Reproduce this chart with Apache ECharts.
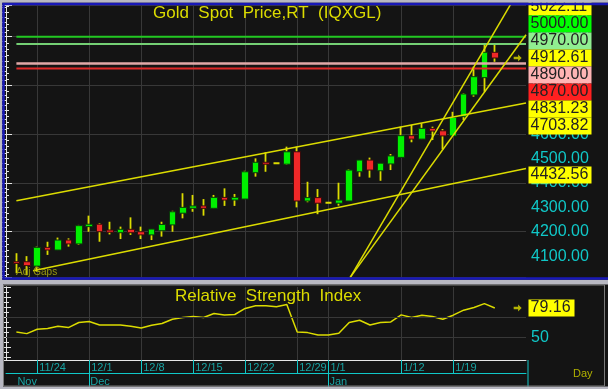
<!DOCTYPE html>
<html>
<head>
<meta charset="utf-8">
<script src="https://cdn.jsdelivr.net/npm/echarts@6.0.0/dist/echarts.min.js"></script>
<style>
html,body{margin:0;padding:0;background:#141414;}
#chart{width:608px;height:389px;}
</style>
</head>
<body>
<div id="chart"></div>
<script>
// ---------------- data ----------------
const dates = ['11/20','11/21','11/24','11/25','11/26','11/27','11/28','12/1','12/2','12/3','12/4','12/5','12/8','12/9','12/10','12/11','12/12','12/15','12/16','12/17','12/18','12/19','12/22','12/23','12/24','12/25','12/26','12/29','12/30','12/31','1/1','1/2','1/5','1/6','1/7','1/8','1/9','1/12','1/13','1/14','1/15','1/16','1/19','1/20','1/21','1/22','1/23'];
const opens  = [4077,4077,4059,4136,4125,4166,4150,4221,4231,4207,4196,4210,4200,4187,4204,4228,4276,4296,4306,4296,4341,4330,4334,4442,4485,4481,4477,4528,4326,4340,4319,4317,4326,4446,4494,4450,4478,4505,4594,4580,4624,4614,4593,4672,4761,4832,4936];
const closes = [4070,4061,4136,4125,4166,4150,4225,4231,4200,4198,4210,4196,4187,4211,4230,4282,4300,4306,4296,4341,4330,4341,4446,4485,4477,4481,4528,4326,4340,4317,4319,4330,4453,4494,4453,4481,4511,4594,4580,4624,4613,4593,4669,4765,4836,4936,4912.61];
const lows   = [4030,4022,4036,4105,4125,4139,4146,4200,4159,4189,4170,4187,4170,4166,4180,4200,4255,4282,4266,4296,4306,4306,4334,4426,4446,4481,4474,4300,4321,4272,4319,4307,4326,4426,4422,4409,4453,4505,4567,4580,4576,4538,4593,4658,4754,4774,4897];
const highs  = [4112,4100,4139,4159,4176,4173,4228,4266,4235,4241,4221,4259,4221,4211,4241,4286,4358,4351,4334,4351,4378,4355,4450,4501,4526,4481,4549,4549,4405,4375,4319,4401,4456,4494,4504,4481,4519,4631,4638,4645,4631,4621,4692,4768,4877,4966,4966];
const rsi    = [55.3,53.7,58,58.7,61,59.7,64.7,65.7,62.3,62.3,62.3,61,59.3,62,63.7,68,69.7,70.7,69.7,73.7,72.3,72.7,78.7,81.3,81.3,80.3,82.7,55.3,54.7,52.3,52.3,54,64.7,67,62.3,64.7,65.3,72.3,69.7,72,70.7,68,72,77,79.7,83.5,79.16];

// horizontal price levels
const levels = [5000, 4970, 4890, 4870];
// trend lines: [bar slot, price] end points (slot 1 = first date)
const trendUpper  = [[1, 4327], [50, 4728.4]];
const trendLower  = [[2.6, 4040], [50, 4459]];
const trendSteepA = [[33.1, 4013], [50, 5240]];
const trendSteepB = [[33.1, 4013], [50, 5008]];
// trend line values at the last bar (right-hand labels)
const trendValues = [5022.11, 4831.23, 4703.82, 4432.56];
// date axis tick labels
const tickDates = ['11/24','12/1','12/8','12/15','12/22','12/29','1/1','1/12','1/19'];
const monthNames = ['Jan','Feb','Mar','Apr','May','Jun','Jul','Aug','Sep','Oct','Nov','Dec'];
const priceRange = [4014.4, 5130];
const rsiRange = [27.5, 100];
const rsiGuides = [50, 70];

// ---------------- styles ----------------
const FONT = '"Liberation Sans", Arial, sans-serif';
const YEL = '#dcdc00';
const CYAN = '#10c8c8';
const TEAL = '#18a4a4';
const GRIDC = '#383838';
const WHITE = '#e6e6e6';
const levelColors = ['#22c822', '#74d074', '#e2a8a8', '#e02828'];
const levelWidths = [2, 2, 2.5, 2];
const levelBgs = ['#00ff00', '#90ee90', '#ffb4b4', '#ff2020'];
const ARROW = 'path://M0,3 L5,3 L5,0 L9,4.5 L5,9 L5,6 L0,6 Z';

const last = dates.length - 1;
const slots = [''].concat(dates, ['', '', '']);
const nSlot = slots.length - 1;
const arrowSlot = 49.2;

function monthOf(d) { return +d.split('/')[0]; }
function isMonthStart(i) {
  const k = i - 1;
  if (k < 0 || k > last) return false;
  return k === 0 || monthOf(dates[k]) !== monthOf(dates[k - 1]);
}
function isMonthBoundary(i) { return i > 1 && isMonthStart(i); }
function isTick(i, v) { return tickDates.indexOf(v) >= 0; }

const wickData = dates.map((d, k) => [k + 1, opens[k], closes[k], lows[k], highs[k]]);
const bodyData = dates.map((d, k) => {
  const o = opens[k], c = closes[k];
  const item = { value: [k + 1, o, c, Math.min(o, c), Math.max(o, c)] };
  if (o === c) item.itemStyle = { color: YEL, color0: YEL, borderColor: YEL, borderColor0: YEL, borderColorDoji: YEL, borderWidth: 2 };
  return item;
});

const trendSeries = [trendUpper, trendLower, trendSteepA, trendSteepB].map(t => ({
  type: 'line', xAxisIndex: 1, yAxisIndex: 0, data: t, symbol: 'none', silent: true, z: 5,
  lineStyle: { color: YEL, width: 1.5 }
}));
const levelSeries = levels.map((lv, i) => ({
  type: 'line', xAxisIndex: 1, yAxisIndex: 0, data: [[1, lv], [nSlot, lv]], symbol: 'none', silent: true, z: 4,
  lineStyle: { color: levelColors[i], width: levelWidths[i] }
}));

const option = {
  animation: false,
  backgroundColor: '#141414',
  textStyle: { fontFamily: FONT },
  title: [
    { text: 'Gold  Spot  Price,RT  (IQXGL)', left: 153, top: 5, padding: 0,
      textStyle: { color: YEL, fontSize: 17, fontWeight: 'normal', fontFamily: FONT } },
    { text: 'Relative  Strength  Index', left: 175, top: 288, padding: 0,
      textStyle: { color: YEL, fontSize: 17, fontWeight: 'normal', fontFamily: FONT } }
  ],
  grid: [
    { left: 6, right: 82, top: 5, height: 272, outerBoundsMode: 'none', containLabel: false },
    { left: 6, right: 82, top: 287, height: 73, outerBoundsMode: 'none', containLabel: false }
  ],
  xAxis: [
    { type: 'category', gridIndex: 0, data: slots, boundaryGap: false,
      axisLine: { show: false }, axisTick: { show: false }, axisLabel: { show: false },
      splitLine: { show: true, interval: isTick, lineStyle: { color: GRIDC, width: 1 } } },
    { type: 'value', gridIndex: 0, min: 0, max: nSlot, show: false },
    { type: 'category', gridIndex: 1, data: slots, boundaryGap: false, position: 'bottom',
      axisLine: { show: true, lineStyle: { color: WHITE, width: 1 } },
      axisTick: { show: true, interval: isTick, length: 13, lineStyle: { color: CYAN, width: 1 } },
      axisLabel: { show: true, interval: isTick, color: TEAL, fontSize: 11, fontFamily: FONT, align: 'left', margin: 2, padding: [0, 0, 0, 2] },
      splitLine: { show: true, interval: isTick, lineStyle: { color: GRIDC, width: 1 } } },
    { type: 'category', gridIndex: 1, data: slots, boundaryGap: false, position: 'bottom', offset: 13,
      axisLine: { show: true, lineStyle: { color: CYAN, width: 1 } },
      axisTick: { show: true, interval: isMonthBoundary, length: 16, lineStyle: { color: CYAN, width: 1 } },
      axisLabel: { show: true, interval: isMonthStart, formatter: v => v ? monthNames[monthOf(v) - 1] : '',
        color: TEAL, fontSize: 11, fontFamily: FONT, align: 'left', margin: 3, padding: [0, 0, 0, 1] },
      splitLine: { show: false } },
    { type: 'value', gridIndex: 1, min: 0, max: nSlot, show: false }
  ],
  yAxis: [
    { type: 'value', gridIndex: 0, position: 'right', min: priceRange[0], max: priceRange[1], minInterval: 100, maxInterval: 100,
      axisLine: { show: true, lineStyle: { color: WHITE, width: 1 } },
      axisTick: { show: true, inside: true, length: 7, lineStyle: { color: WHITE } },
      minorTick: { show: true, splitNumber: 5, length: 4, lineStyle: { color: WHITE } },
      axisLabel: { show: true, color: CYAN, fontSize: 16, fontFamily: FONT, margin: 5,
        formatter: v => (Math.abs(v % 100) < 1e-6 ? v.toFixed(2) : '') },
      splitLine: { show: false } },
    { type: 'value', gridIndex: 0, position: 'left', min: priceRange[0], max: priceRange[1], minInterval: 200, maxInterval: 200,
      axisLine: { show: true, lineStyle: { color: WHITE, width: 1 } },
      axisTick: { show: true, inside: true, length: 6, lineStyle: { color: WHITE } },
      minorTick: { show: true, splitNumber: 8, length: 3, lineStyle: { color: WHITE } },
      axisLabel: { show: false },
      splitLine: { show: true, lineStyle: { color: GRIDC, width: 1 } } },
    { type: 'value', gridIndex: 1, position: 'right', min: rsiRange[0], max: rsiRange[1], minInterval: 10, maxInterval: 10,
      axisLine: { show: true, lineStyle: { color: WHITE, width: 1 } },
      axisTick: { show: true, inside: true, length: 6, lineStyle: { color: WHITE } },
      minorTick: { show: true, splitNumber: 2, length: 3, lineStyle: { color: WHITE } },
      axisLabel: { show: true, color: CYAN, fontSize: 16, fontFamily: FONT, margin: 5,
        formatter: v => (v === 50 ? '50' : '') },
      splitLine: { show: false } },
    { type: 'value', gridIndex: 1, position: 'left', min: rsiRange[0], max: rsiRange[1], minInterval: 10, maxInterval: 10,
      axisLine: { show: true, lineStyle: { color: WHITE, width: 1 } },
      axisTick: { show: true, inside: true, length: 5, lineStyle: { color: WHITE } },
      minorTick: { show: true, splitNumber: 2, length: 3, lineStyle: { color: WHITE } },
      axisLabel: { show: false }, splitLine: { show: false } }
  ],
  series: [
    { name: 'wick', type: 'candlestick', xAxisIndex: 0, yAxisIndex: 0, encode: { x: 0, y: [1, 2, 3, 4] },
      data: wickData, barWidth: 1, silent: true, z: 2,
      itemStyle: { color: YEL, color0: YEL, borderColor: YEL, borderColor0: YEL, borderColorDoji: YEL, borderWidth: 1.8 } },
    { name: 'Gold', type: 'candlestick', xAxisIndex: 0, yAxisIndex: 0, encode: { x: 0, y: [1, 2, 3, 4] },
      data: bodyData, barWidth: 7, z: 3,
      itemStyle: { color: '#00f000', color0: '#f02828', borderColor: '#0a3a0a', borderColor0: '#3a0a0a', borderColorDoji: YEL, borderWidth: 1 } }
  ].concat(levelSeries, trendSeries, [
    { type: 'scatter', xAxisIndex: 1, yAxisIndex: 0, data: [[arrowSlot, closes[last]]], symbol: ARROW, symbolSize: [8, 7],
      itemStyle: { color: YEL }, silent: true, z: 6 },
    { type: 'line', xAxisIndex: 4, yAxisIndex: 2, data: [], silent: true, z: 1,
      markLine: { silent: true, symbol: 'none', label: { show: false },
        lineStyle: { color: GRIDC, width: 1, type: 'solid' }, data: rsiGuides.map(g => ({ yAxis: g })) } },
    { name: 'RSI', type: 'line', xAxisIndex: 4, yAxisIndex: 2, data: rsi.map((v, k) => [k + 1, v]), symbol: 'none', z: 3,
      lineStyle: { color: YEL, width: 1.5 } },
    { type: 'scatter', xAxisIndex: 4, yAxisIndex: 2, data: [[arrowSlot, rsi[last]]], symbol: ARROW, symbolSize: [8, 7],
      itemStyle: { color: YEL }, silent: true, z: 6 }
  ])
};

const chart = echarts.init(document.getElementById('chart'), null, { renderer: 'canvas' });
chart.setOption(option);

// ---------------- right-hand value boxes (stacked around the last price) ----------------
const items = [];
levels.forEach((v, i) => items.push({ v: v, bg: levelBgs[i] }));
trendValues.forEach(v => items.push({ v: v, bg: '#ffff00' }));
items.push({ v: closes[last], bg: '#ffff00', anchor: true });
items.sort((a, b) => b.v - a.v);
const BH = 17;
const ai = items.findIndex(it => it.anchor);
items.forEach(it => { it.y = chart.convertToPixel({ yAxisIndex: 0 }, it.v); });
for (let i = ai - 1; i >= 0; i--) items[i].y = Math.min(items[i].y, items[i + 1].y - BH);
for (let i = ai + 1; i < items.length; i++) items[i].y = Math.max(items[i].y, items[i - 1].y + BH);

const axisX = chart.convertToPixel({ xAxisIndex: 1 }, nSlot);
const g = [];
items.forEach(it => {
  g.push({ type: 'rect', z: 50, shape: { x: axisX + 2.5, y: it.y - BH / 2, width: 63, height: BH }, style: { fill: it.bg } });
  g.push({ type: 'text', z: 51, x: axisX + 4.5, y: it.y,
    style: { text: it.v.toFixed(2), fill: '#222', font: '16px ' + FONT, verticalAlign: 'middle', textVerticalAlign: 'middle' } });
});
const ry = chart.convertToPixel({ yAxisIndex: 2 }, rsi[last]);
g.push({ type: 'rect', z: 50, shape: { x: axisX + 2.5, y: ry - BH / 2, width: 46, height: BH }, style: { fill: '#ffff00' } });
g.push({ type: 'text', z: 51, x: axisX + 4.5, y: ry,
  style: { text: rsi[last].toFixed(2), fill: '#222', font: '16px ' + FONT, verticalAlign: 'middle', textVerticalAlign: 'middle' } });

// small texts
g.push({ type: 'text', z: 20, x: 16, y: 272, style: { text: 'Adj Gaps', fill: '#9a9a10', font: '10px ' + FONT, verticalAlign: 'middle', textVerticalAlign: 'middle' } });
g.push({ type: 'text', z: 20, x: 573, y: 374, style: { text: 'Day', fill: '#b0b000', font: '11px ' + FONT, verticalAlign: 'middle', textVerticalAlign: 'middle' } });
g.push({ type: 'line', z: 20, shape: { x1: 528, y1: 360, x2: 528, y2: 388 }, style: { stroke: CYAN, lineWidth: 1 } });

// frame
const FR = '#b8b8c2';
g.push({ type: 'rect', z: 100, shape: { x: 0, y: 0, width: 608, height: 2.75 }, style: { fill: FR } });
g.push({ type: 'rect', z: 100, shape: { x: 0, y: 0, width: 2.25, height: 389 }, style: { fill: FR } });
g.push({ type: 'rect', z: 100, shape: { x: 0, y: 279.75, width: 608, height: 4.75 }, style: { fill: FR } });
g.push({ type: 'rect', z: 100, shape: { x: 0, y: 386.5, width: 608, height: 2.5 }, style: { fill: FR } });
g.push({ type: 'rect', z: 100, shape: { x: 0, y: 284, width: 3, height: 105 }, style: { fill: FR } });
g.push({ type: 'rect', z: 101, shape: { x: 3.5, y: 4, width: 610, height: 274.5 }, style: { fill: null, stroke: '#1818b8', lineWidth: 2.5 } });
g.push({ type: 'rect', z: 101, shape: { x: 3.5, y: 285, width: 601, height: 101 }, style: { fill: null, stroke: '#7a7a7a', lineWidth: 1 } });

chart.setOption({ graphic: g });
</script>
</body>
</html>
